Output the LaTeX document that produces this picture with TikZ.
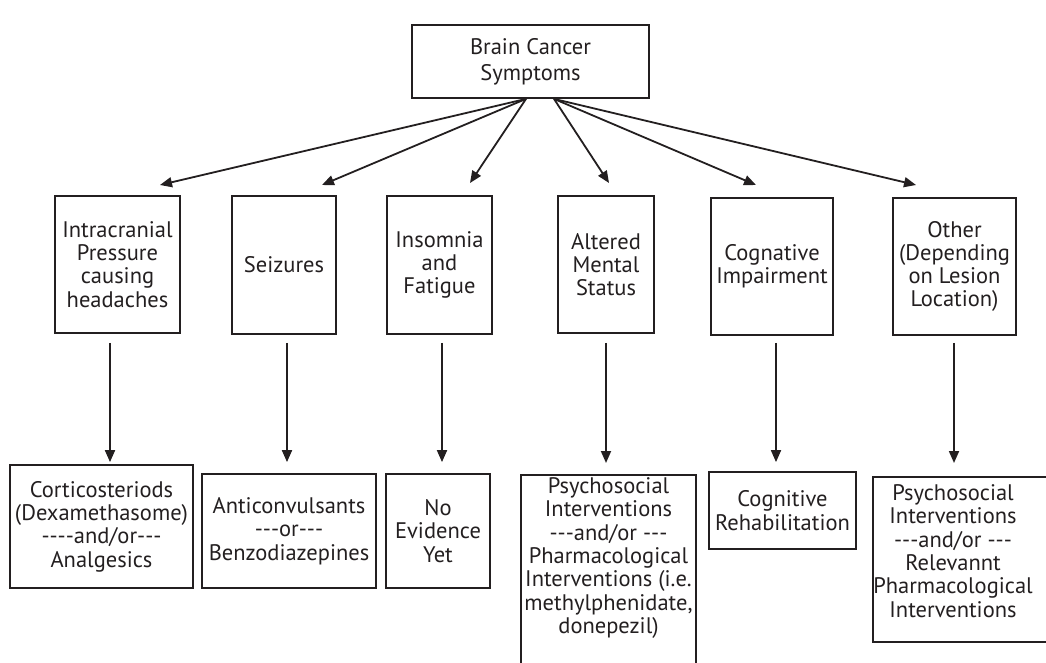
\documentclass[tikz,border=0pt]{standalone}
\usepackage{fontspec}
\setmainfont[Ligatures=TeXOff]{PT Sans}
\usetikzlibrary{arrows.meta,calc}
\definecolor{ink}{HTML}{231F20}
\tikzset{
  box/.style={draw=ink, line width=1.8pt, inner sep=0pt, align=center, text=ink, font=\fontsize{22.5}{23.3}\selectfont},
  txt/.style={inner sep=0pt, align=center, text=ink, font=\fontsize{22.5}{23.3}\selectfont},
  arr/.style={draw=ink, line width=1.8pt, -{Triangle[length=12pt,width=10pt]}},
}
\begin{document}
\begin{tikzpicture}[x=1pt,y=-1pt]
\useasboundingbox (0,0) rectangle (1046,662);
\begin{scope}
\clip (0,0) rectangle (1046,662);
% top
\node[box, minimum width=237pt, minimum height=73pt, font=\fontsize{22.5}{26}\selectfont] (top) at (530.5,61.5) {Brain Cancer\\Symptoms};
% middle
\node[box, minimum width=125pt, minimum height=137pt] (m1) at (117.5,264.5) {Intracranial\\Pressure\\causing\\headaches};
\node[box, minimum width=104pt, minimum height=138pt] (m2) at (284,265) {Seizures};
\node[box, minimum width=105pt, minimum height=138pt] (m3) at (439.5,265) {Insomnia\\and\\Fatigue};
\node[box, minimum width=96pt, minimum height=137pt] (m4) at (606,264.5) {Altered\\Mental\\Status};
\node[box, minimum width=122pt, minimum height=137pt] (m5) at (772,266.5) {Cognative\\Impairment};
\node[box, minimum width=123pt, minimum height=137pt] (m6) at (954.5,266.5) {Other\\(Depending\\on Lesion\\Location)};
% bottom
\node[box, minimum width=183pt, minimum height=123pt] (b1) at (101.5,526.5) {Corticosteriods\\(Dexamethasome)\\----and/or---\\Analgesics};
\node[box, minimum width=174pt, minimum height=114pt] (b2) at (289,531) {Anticonvulsants\\---or---\\Benzodiazepines};
\node[box, minimum width=104pt, minimum height=114pt] (b3) at (438,531) {No\\Evidence\\Yet};
\node[box, minimum width=175pt, minimum height=240pt, anchor=north] (b4) at (608.5,474) {};
\node[txt] (b4t) at (608.5,558) {Psychosocial\\Interventions\\---and/or ---\\Pharmacological\\Interventions (i.e.\\methylphenidate,\\donepezil)};
\node[box, minimum width=147pt, minimum height=77pt] (b5) at (782.5,510.5) {Cognitive\\Rehabilitation};
\node[box, minimum width=200pt, minimum height=165pt, anchor=north west] (b6) at (872,476) {};
\node[txt] (b6t) at (953,551) {Psychosocial\\Interventions\\---and/or ---\\Relevannt\\Pharmacological\\Interventions};
\end{scope}
% top arrows
\coordinate (sL) at ([xshift=-4.5pt]top.south);
\coordinate (sR) at ([xshift=23.5pt]top.south);
\coordinate (e1) at (160,185);
\coordinate (e2) at (322,185);
\coordinate (e3) at (470,183);
\coordinate (e4) at (609,183);
\coordinate (e5) at (756,185);
\coordinate (e6) at (916,185);
\draw[arr] (sL) -- (e1);
\draw[arr] (sL) -- (e2);
\draw[arr] (sL) -- (e3);
\draw[arr] (sR) -- (e4);
\draw[arr] (sR) -- (e5);
\draw[arr] (sR) -- (e6);
% vertical arrows
\draw[arr, shorten <=9pt, shorten >=2pt] ([xshift=-7.5pt]m1.south) -- ([xshift=-7.5pt]m1.south |- b1.north);
\draw[arr, shorten <=8pt, shorten >=11pt] ([xshift=3pt]m2.south) -- ([xshift=3pt]m2.south |- b2.north);
\draw[arr, shorten <=8pt, shorten >=11pt] ([xshift=2.5pt]m3.south) -- ([xshift=2.5pt]m3.south |- b3.north);
\draw[arr, shorten <=9pt, shorten >=11pt] (m4.south) -- (m4.south |- b4.north);
\draw[arr, shorten <=7pt, shorten >=9pt] ([xshift=4pt]m5.south) -- ([xshift=4pt]m5.south |- b5.north);
\draw[arr, shorten <=7pt, shorten >=13pt] ([xshift=-0.5pt]m6.south) -- ([xshift=-0.5pt]m6.south |- b6.north);
\end{tikzpicture}
\end{document}
